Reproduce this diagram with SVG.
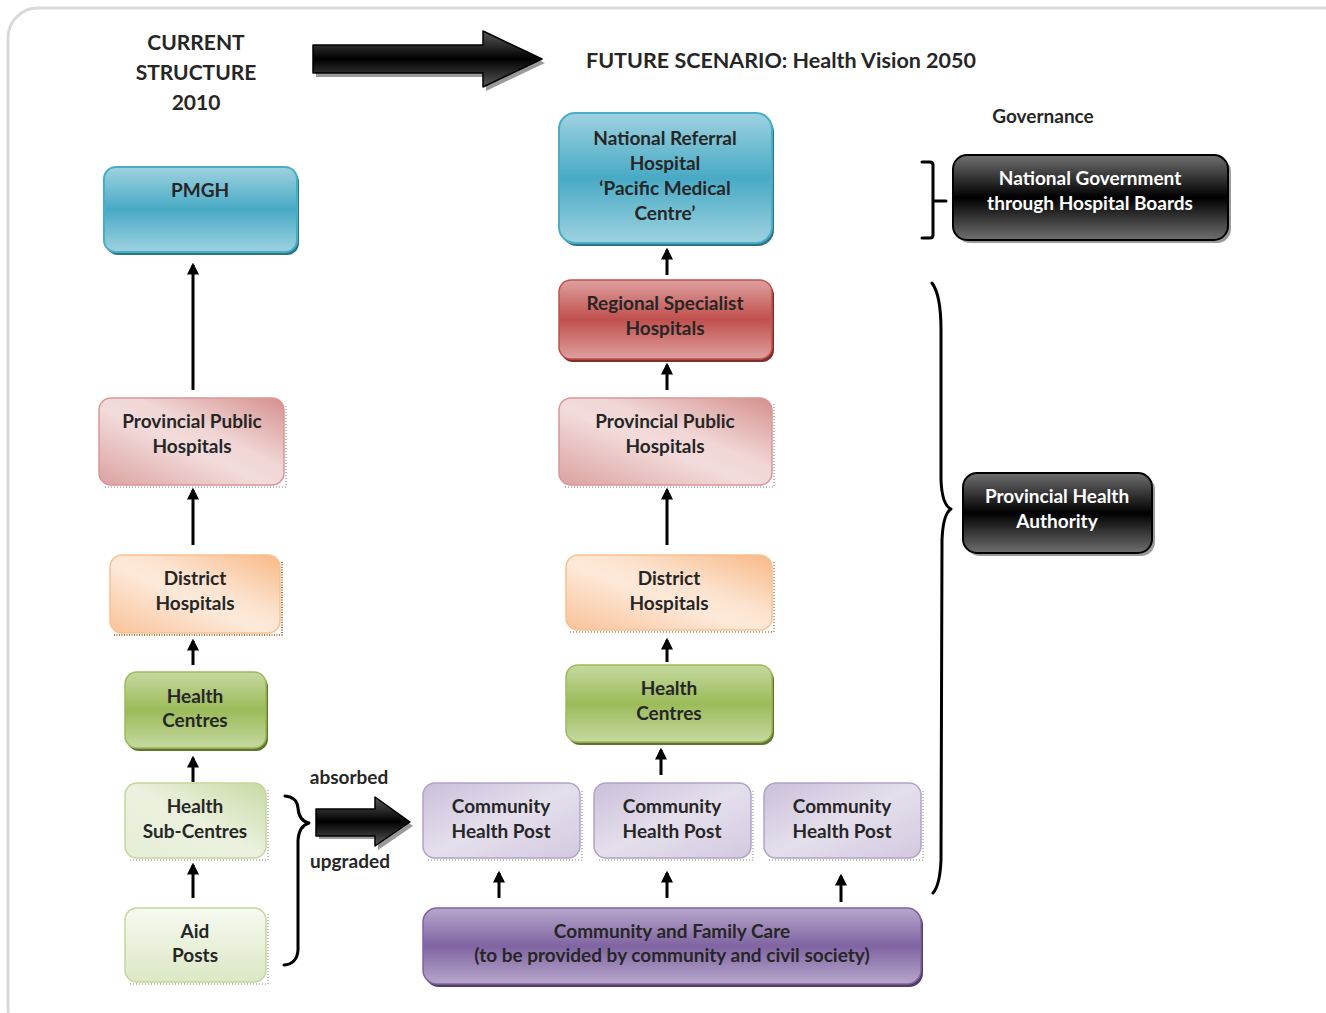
<svg xmlns="http://www.w3.org/2000/svg" width="1326" height="1013" viewBox="0 0 1326 1013">
<style>
text{font-family:Lato,"Open Sans","Liberation Sans",sans-serif;font-weight:bold;fill:#262626;text-anchor:middle}
.t{font-size:19px}
.h{font-size:21px}
.s{font-size:19px}
.w{fill:#ffffff}
.con{stroke:#000;stroke-width:3;fill:none;marker-end:url(#ah)}
.dot{stroke:#7f7f7f;stroke-width:1;stroke-dasharray:1 2;fill:none}
.br{stroke:#000;stroke-width:3;fill:none;stroke-linecap:round;stroke-linejoin:round}
</style>
<defs>
<marker id="ah" viewBox="0 0 10 10" refX="8" refY="5" markerWidth="4" markerHeight="4" orient="auto">
<path d="M0,0 L10,5 L0,10 z" fill="#000"/>
</marker>
<linearGradient id="blueG" x1="0" y1="0" x2="0" y2="1"><stop offset="0" stop-color="#9ed2e0"/><stop offset="0.5" stop-color="#48aac5"/><stop offset="1" stop-color="#9ed2e0"/></linearGradient>
<linearGradient id="redG" x1="0" y1="0" x2="0" y2="1"><stop offset="0" stop-color="#dea09f"/><stop offset="0.5" stop-color="#c0504d"/><stop offset="1" stop-color="#dea09f"/></linearGradient>
<linearGradient id="pinkG" x1="0" y1="1" x2="1" y2="0"><stop offset="0" stop-color="#dba1a0"/><stop offset="0.45" stop-color="#f2dcdb"/><stop offset="0.6" stop-color="#f0d6d5"/><stop offset="1" stop-color="#d58f8d"/></linearGradient>
<linearGradient id="orangeG" x1="0" y1="1" x2="1" y2="0"><stop offset="0" stop-color="#f9c299"/><stop offset="0.45" stop-color="#fde9d9"/><stop offset="0.6" stop-color="#fce3cf"/><stop offset="1" stop-color="#f8b986"/></linearGradient>
<linearGradient id="greenG" x1="0" y1="0" x2="0" y2="1"><stop offset="0" stop-color="#c5d9a0"/><stop offset="0.5" stop-color="#9bbb59"/><stop offset="1" stop-color="#c5d9a0"/></linearGradient>
<linearGradient id="lgreenG" x1="0" y1="1" x2="1" y2="0"><stop offset="0" stop-color="#e6eed6"/><stop offset="0.5" stop-color="#ebf1de"/><stop offset="1" stop-color="#c8daa4"/></linearGradient>
<linearGradient id="pgreenG" x1="0" y1="0" x2="0" y2="1"><stop offset="0" stop-color="#f7faf1"/><stop offset="1" stop-color="#dbe7c4"/></linearGradient>
<linearGradient id="lavG" x1="0" y1="0" x2="1" y2="1"><stop offset="0" stop-color="#cabfda"/><stop offset="0.5" stop-color="#e5dfec"/><stop offset="1" stop-color="#d3c9e0"/></linearGradient>
<linearGradient id="purpleG" x1="0" y1="0" x2="0" y2="1"><stop offset="0" stop-color="#b6a7cb"/><stop offset="0.5" stop-color="#8064a2"/><stop offset="1" stop-color="#b6a7cb"/></linearGradient>
<linearGradient id="blackG" x1="0" y1="0" x2="0" y2="1"><stop offset="0" stop-color="#707070"/><stop offset="0.5" stop-color="#000"/><stop offset="1" stop-color="#707070"/></linearGradient>
<linearGradient id="arrowG" x1="0" y1="0" x2="0" y2="1"><stop offset="0" stop-color="#5a5a5a"/><stop offset="0.5" stop-color="#000"/><stop offset="1" stop-color="#5a5a5a"/></linearGradient>
</defs>

<rect x="8" y="8" width="1346" height="1030" rx="30" fill="#fff" stroke="#d9d9d9" stroke-width="3"/>

<g id="title-current">
<text class="h" x="196" y="50">CURRENT</text>
<text class="h" x="196" y="80">STRUCTURE</text>
<text class="h" x="196" y="110">2010</text>
</g>
<g id="big-arrow">
<path d="M316,49 L486,49 L486,35 L545,63 L486,91 L486,77 L316,77 Z" fill="#9a9a9a"/>
<path d="M313,45 L483,45 L483,31 L542,59 L483,87 L483,73 L313,73 Z" fill="url(#arrowG)" stroke="#000" stroke-width="1.5" stroke-linejoin="round"/>
</g>
<g id="title-future">
<text style="font-size:21.5px" x="781" y="68">FUTURE SCENARIO: Health Vision 2050</text>
</g>
<g id="title-governance">
<text class="s" x="1043" y="123">Governance</text>
</g>

<g id="pmgh">
<rect x="106" y="170" width="193" height="85" rx="12" fill="#2b7489"/>
<rect x="104" y="167" width="193" height="85" rx="12" fill="url(#blueG)" stroke="#4bacc6" stroke-width="2"/>
<text class="t" x="200" y="197">PMGH</text>
</g>
<g id="pph-left">
<rect x="99" y="398" width="185" height="87" rx="12" fill="url(#pinkG)" stroke="#d99694" stroke-width="1.5"/>
<path class="dot" d="M105,487 L286,487 L286,404"/>
<text class="t" x="192" y="428">Provincial Public</text>
<text class="t" x="192" y="453">Hospitals</text>
</g>
<g id="dh-left">
<rect x="110" y="555" width="170" height="78" rx="12" fill="url(#orangeG)" stroke="#fac090" stroke-width="1.5"/>
<path d="M114,635 L282,635 L282,561" fill="none" stroke="#984807" stroke-width="1.5" stroke-dasharray="1 1.5"/>
<text class="t" x="195" y="585">District</text>
<text class="t" x="195" y="610">Hospitals</text>
</g>
<g id="hc-left">
<rect x="127" y="675" width="141" height="76" rx="12" fill="#5f7530"/>
<rect x="125" y="672" width="141" height="76" rx="12" fill="url(#greenG)" stroke="#9bbb59" stroke-width="1.5"/>
<text class="t" x="195" y="703">Health</text>
<text class="t" x="195" y="727">Centres</text>
</g>
<g id="hsc-left">
<rect x="125" y="783" width="141" height="75" rx="12" fill="url(#lgreenG)" stroke="#c3d69b" stroke-width="1.5"/>
<path class="dot" d="M130,860 L268,860 L268,789"/>
<text class="t" x="195" y="813">Health</text>
<text class="t" x="195" y="838">Sub-Centres</text>
</g>
<g id="ap-left">
<rect x="125" y="908" width="141" height="74" rx="12" fill="url(#pgreenG)" stroke="#c3d69b" stroke-width="1.5"/>
<path class="dot" d="M130,984 L268,984 L268,914"/>
<text class="t" x="195" y="938">Aid</text>
<text class="t" x="195" y="962">Posts</text>
</g>

<g id="brace-left">
<path class="br" d="M285,796 Q297,797 298,808 Q299,821 309,823 Q299,826 298,840 L298,950 Q297,964 284,965"/>
</g>
<g id="absorbed-arrow">
<path d="M319,812 L378,812 L378,801 L413,826 L378,850 L378,839 L319,839 Z" fill="#9a9a9a"/>
<path d="M316,809 L375,809 L375,797 L410,822 L375,846 L375,836 L316,836 Z" fill="url(#arrowG)" stroke="#000" stroke-width="1.5" stroke-linejoin="round"/>
<text class="s" x="349" y="784">absorbed</text>
<text class="s" x="350" y="868">upgraded</text>
</g>

<g id="nrh">
<rect x="561" y="116" width="213" height="130" rx="16" fill="#2b7489"/>
<rect x="559" y="113" width="213" height="130" rx="16" fill="url(#blueG)" stroke="#4bacc6" stroke-width="2"/>
<text class="t" x="665" y="145">National Referral</text>
<text class="t" x="665" y="170">Hospital</text>
<text class="t" x="665" y="195">‘Pacific Medical</text>
<text class="t" x="665" y="220">Centre’</text>
</g>
<g id="rsh">
<rect x="561" y="283" width="213" height="79" rx="12" fill="#7f2d2b"/>
<rect x="559" y="280" width="213" height="79" rx="12" fill="url(#redG)" stroke="#c0504d" stroke-width="1.5"/>
<text class="t" x="665" y="310">Regional Specialist</text>
<text class="t" x="665" y="335">Hospitals</text>
</g>
<g id="pph-mid">
<rect x="559" y="398" width="213" height="87" rx="12" fill="url(#pinkG)" stroke="#d99694" stroke-width="1.5"/>
<path class="dot" d="M565,487 L774,487 L774,404"/>
<text class="t" x="665" y="428">Provincial Public</text>
<text class="t" x="665" y="453">Hospitals</text>
</g>
<g id="dh-mid">
<rect x="566" y="555" width="206" height="75" rx="12" fill="url(#orangeG)" stroke="#fac090" stroke-width="1.5"/>
<path d="M570,632 L774,632 L774,561" fill="none" stroke="#984807" stroke-width="1" stroke-dasharray="1 2"/>
<text class="t" x="669" y="585">District</text>
<text class="t" x="669" y="610">Hospitals</text>
</g>
<g id="hc-mid">
<rect x="568" y="668" width="206" height="77" rx="12" fill="#5f7530"/>
<rect x="566" y="665" width="206" height="77" rx="12" fill="url(#greenG)" stroke="#9bbb59" stroke-width="1.5"/>
<text class="t" x="669" y="695">Health</text>
<text class="t" x="669" y="720">Centres</text>
</g>
<g id="chp-1">
<rect x="423" y="783" width="157" height="75" rx="12" fill="url(#lavG)" stroke="#b3a2c7" stroke-width="1.5"/>
<path class="dot" d="M428,860 L582,860 L582,789"/>
<text class="t" x="501" y="813">Community</text>
<text class="t" x="501" y="838">Health Post</text>
</g>
<g id="chp-2">
<rect x="594" y="783" width="157" height="75" rx="12" fill="url(#lavG)" stroke="#b3a2c7" stroke-width="1.5"/>
<path class="dot" d="M599,860 L753,860 L753,789"/>
<text class="t" x="672" y="813">Community</text>
<text class="t" x="672" y="838">Health Post</text>
</g>
<g id="chp-3">
<rect x="764" y="783" width="157" height="75" rx="12" fill="url(#lavG)" stroke="#b3a2c7" stroke-width="1.5"/>
<path class="dot" d="M769,860 L923,860 L923,789"/>
<text class="t" x="842" y="813">Community</text>
<text class="t" x="842" y="838">Health Post</text>
</g>
<g id="cfc">
<rect x="425" y="911" width="498" height="76" rx="14" fill="#4f3d66"/>
<rect x="423" y="908" width="498" height="76" rx="14" fill="url(#purpleG)" stroke="#8064a2" stroke-width="1.5"/>
<text class="t" x="672" y="938">Community and Family Care</text>
<text class="t" x="672" y="962">(to be provided by community and civil society)</text>
</g>

<g id="gov-bracket">
<path class="br" d="M922,162 L930,162 Q933,162 933,165 L933,235 Q933,238 930,238 L922,238 M933,201 L946,201"/>
</g>
<g id="ngov">
<rect x="956" y="158" width="275" height="85" rx="14" fill="#9a9a9a"/>
<rect x="953" y="155" width="275" height="85" rx="14" fill="url(#blackG)" stroke="#000" stroke-width="2"/>
<text class="t w" x="1090" y="185">National Government</text>
<text class="t w" x="1090" y="210">through Hospital Boards</text>
</g>
<g id="brace-right">
<path class="br" d="M932,283 Q941,295 941,330 L941,480 Q942,505 951,509 Q943,514 942,540 L941,860 Q940,885 933,893"/>
</g>
<g id="pha">
<rect x="966" y="476" width="189" height="80" rx="14" fill="#9a9a9a"/>
<rect x="963" y="473" width="189" height="80" rx="14" fill="url(#blackG)" stroke="#000" stroke-width="2"/>
<text class="t w" x="1057" y="503">Provincial Health</text>
<text class="t w" x="1057" y="528">Authority</text>
</g>

<g id="connectors">
<line class="con" x1="193" y1="390" x2="193" y2="265"/>
<line class="con" x1="193" y1="545" x2="193" y2="490"/>
<line class="con" x1="193" y1="665" x2="193" y2="641"/>
<line class="con" x1="193" y1="782" x2="193" y2="758"/>
<line class="con" x1="193" y1="898" x2="193" y2="865"/>
<line class="con" x1="667" y1="275" x2="667" y2="250"/>
<line class="con" x1="667" y1="390" x2="667" y2="365"/>
<line class="con" x1="667" y1="545" x2="667" y2="490"/>
<line class="con" x1="667" y1="662" x2="667" y2="640"/>
<line class="con" x1="661" y1="775" x2="661" y2="750"/>
<line class="con" x1="499" y1="898" x2="499" y2="873"/>
<line class="con" x1="667" y1="898" x2="667" y2="873"/>
<line class="con" x1="841" y1="902" x2="841" y2="876"/>
</g>
</svg>
